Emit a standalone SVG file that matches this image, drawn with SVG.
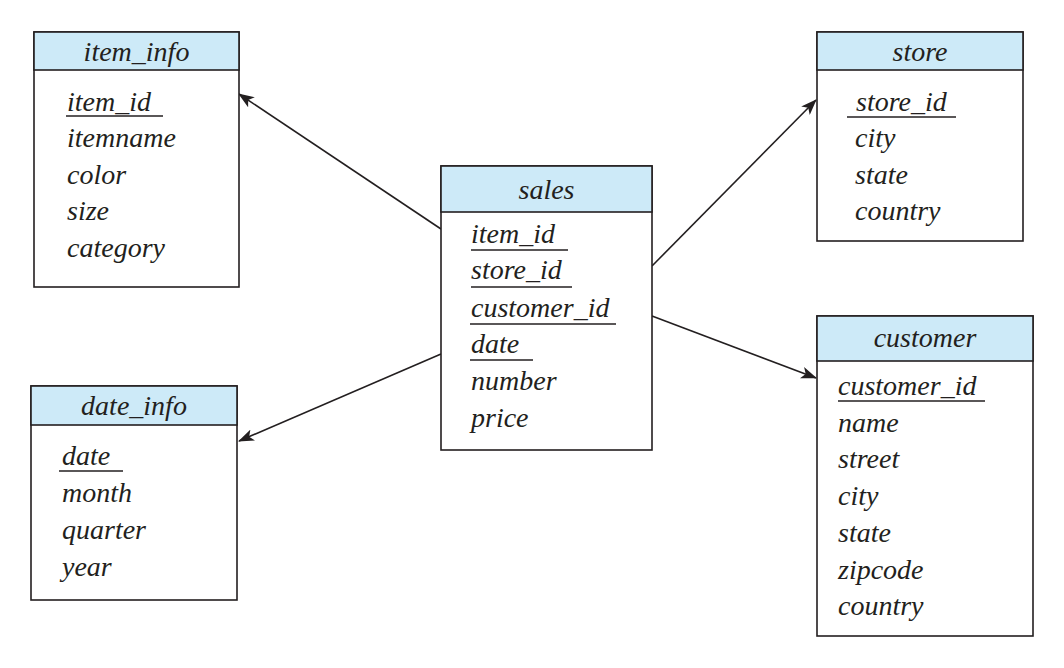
<svg xmlns="http://www.w3.org/2000/svg" width="1064" height="668" viewBox="0 0 1064 668">
<style>
.box{fill:#fff;stroke:#231f20;stroke-width:1.6}
.hdr{fill:#cdeaf8;stroke:#231f20;stroke-width:1.6}
.t{font-family:"Liberation Serif","Times New Roman",serif;font-style:italic;font-size:28px;fill:#231f20}
.ul{stroke:#231f20;stroke-width:1.5}
.c{stroke:#231f20;stroke-width:1.6;fill:none;marker-end:url(#ah)}
</style>
<defs>
<marker id="ah" viewBox="0 0 16 12" refX="15" refY="6" markerWidth="16" markerHeight="12" markerUnits="userSpaceOnUse" orient="auto">
<path d="M0,0 L16,6 L0,12 L4,6 Z" fill="#231f20"/>
</marker>
</defs>
<g id="connectors">
<line class="c" x1="441" y1="229" x2="239" y2="94"/>
<line class="c" x1="652" y1="266" x2="816" y2="100"/>
<line class="c" x1="652" y1="316" x2="816" y2="378"/>
<line class="c" x1="441" y1="354" x2="239" y2="441"/>
</g>
<g id="item_info">
<rect class="box" x="34" y="32" width="205" height="255"/>
<rect class="hdr" x="34" y="32" width="205" height="38"/>
<text class="t" x="136.5" y="61" text-anchor="middle">item_info</text>
<text class="t" x="67" y="111">item_id</text>
<line class="ul" x1="66" y1="116" x2="163" y2="116"/>
<text class="t" x="67" y="147">itemname</text>
<text class="t" x="67" y="184">color</text>
<text class="t" x="67" y="220">size</text>
<text class="t" x="67" y="257">category</text>
</g>
<g id="sales">
<rect class="box" x="441" y="166" width="211" height="284"/>
<rect class="hdr" x="441" y="166" width="211" height="46"/>
<text class="t" x="546.5" y="199" text-anchor="middle">sales</text>
<text class="t" x="471" y="243">item_id</text>
<line class="ul" x1="471" y1="250" x2="568" y2="250"/>
<text class="t" x="471" y="279">store_id</text>
<line class="ul" x1="471" y1="287" x2="572" y2="287"/>
<text class="t" x="471" y="317">customer_id</text>
<line class="ul" x1="470" y1="324" x2="616" y2="324"/>
<text class="t" x="471" y="353">date</text>
<line class="ul" x1="470" y1="360" x2="533" y2="360"/>
<text class="t" x="471" y="390">number</text>
<text class="t" x="471" y="427">price</text>
</g>
<g id="store">
<rect class="box" x="817" y="32" width="206" height="209"/>
<rect class="hdr" x="817" y="32" width="206" height="38"/>
<text class="t" x="920" y="61" text-anchor="middle">store</text>
<text class="t" x="856" y="111">store_id</text>
<line class="ul" x1="847" y1="117" x2="956" y2="117"/>
<text class="t" x="855" y="147">city</text>
<text class="t" x="855" y="184">state</text>
<text class="t" x="855" y="220">country</text>
</g>
<g id="customer">
<rect class="box" x="817" y="316" width="216" height="320"/>
<rect class="hdr" x="817" y="316" width="216" height="45"/>
<text class="t" x="925" y="347" text-anchor="middle">customer</text>
<text class="t" x="838" y="395">customer_id</text>
<line class="ul" x1="838" y1="401" x2="985" y2="401"/>
<text class="t" x="838" y="432">name</text>
<text class="t" x="838" y="468">street</text>
<text class="t" x="838" y="505">city</text>
<text class="t" x="838" y="542">state</text>
<text class="t" x="838" y="579">zipcode</text>
<text class="t" x="838" y="615">country</text>
</g>
<g id="date_info">
<rect class="box" x="31" y="386" width="206" height="214"/>
<rect class="hdr" x="31" y="386" width="206" height="39"/>
<text class="t" x="134" y="415" text-anchor="middle">date_info</text>
<text class="t" x="62" y="465">date</text>
<line class="ul" x1="59" y1="471" x2="123" y2="471"/>
<text class="t" x="62" y="502">month</text>
<text class="t" x="62" y="539">quarter</text>
<text class="t" x="62" y="576">year</text>
</g>
</svg>
